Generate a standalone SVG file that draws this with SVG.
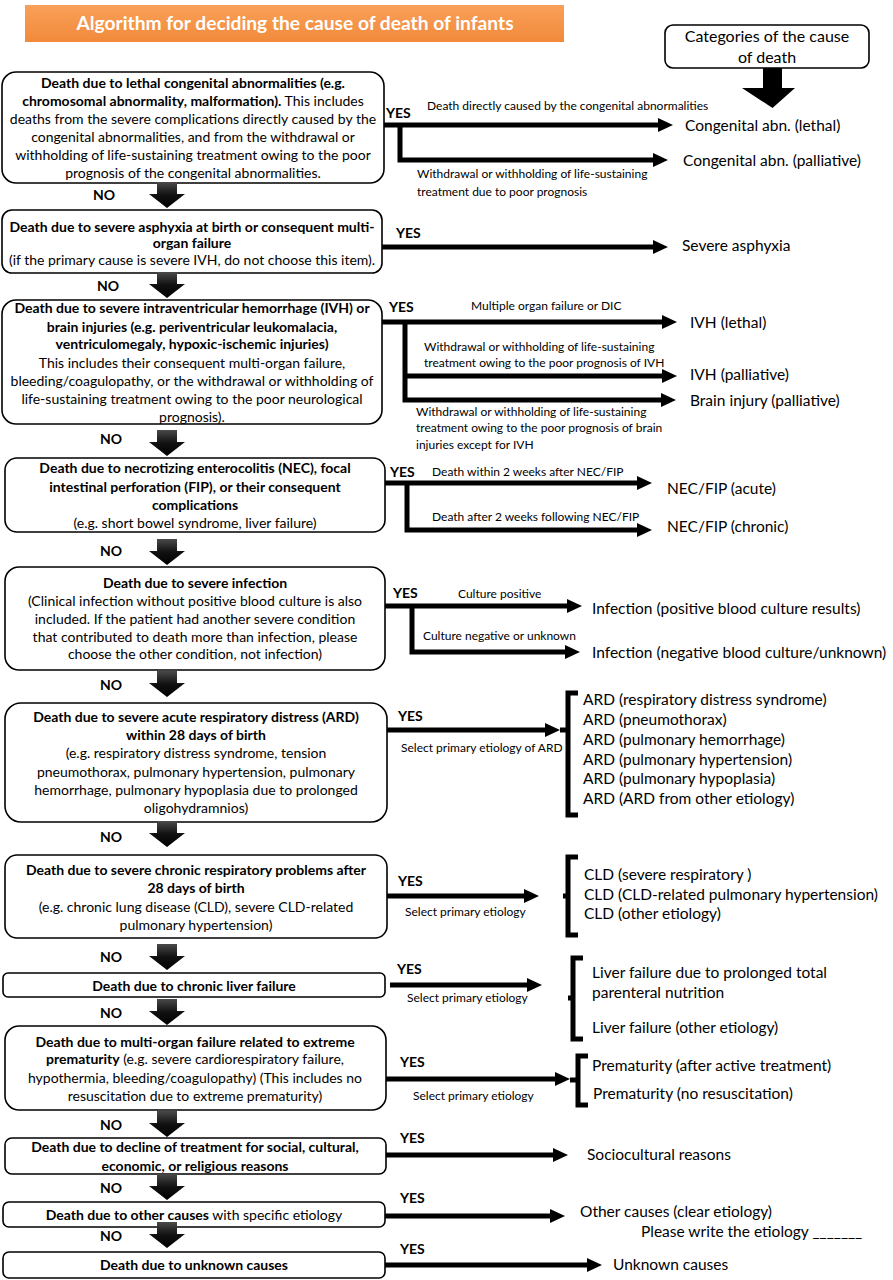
<svg xmlns="http://www.w3.org/2000/svg" width="893" height="1280" viewBox="0 0 893 1280">
<style>
text{font-family:Lato,"Open Sans",sans-serif;fill:#000}
.n{font-size:14px;text-anchor:middle}
.bd{font-weight:bold}
.yn{font-size:14px;font-weight:bold}
.s{font-size:12px}
.c{font-size:15.5px}
.box{fill:#fff;stroke:#000;stroke-width:1.6}
.ln{fill:none;stroke:#000;stroke-width:5}
.br{fill:none;stroke:#000;stroke-width:5}
</style>
<defs>
<linearGradient id="og" x1="0" y1="0" x2="0" y2="1"><stop offset="0" stop-color="#f9a059"/><stop offset="1" stop-color="#f18a3a"/></linearGradient>
<linearGradient id="dg" x1="0" y1="0" x2="0" y2="1"><stop offset="0" stop-color="#4a4a4a"/><stop offset="0.5" stop-color="#111"/><stop offset="1" stop-color="#000"/></linearGradient>
<path id="ah" d="M-15,-7 L0,0 L-15,7 Z" fill="#000"/>
<path id="da" d="M-10,0 H10 V12 H18 L0,26 L-18,12 H-10 Z" fill="url(#dg)"/>
</defs>

<g id="title">
<rect x="25" y="5" width="539" height="37" fill="url(#og)"/>
<text x="295" y="30" style="font-size:19.2px;font-weight:bold;fill:#fff;text-anchor:middle">Algorithm for deciding the cause of death of infants</text>
</g>

<g id="categories">
<rect x="665" y="25" width="204" height="43" rx="8" class="box"/>
<text x="767" y="42" class="c" style="font-size:16px;text-anchor:middle">Categories of the cause</text>
<text x="767" y="63" class="c" style="font-size:16px;text-anchor:middle">of death</text>
<path d="M763,68 H782 V88 H795 L772.5,108 L742,88 H763 Z" fill="#000"/>
</g>

<g id="node1">
<rect x="2" y="72" width="382" height="111" rx="14" class="box"/>
<text x="193" y="88" class="n bd">Death due to lethal congenital abnormalities (e.g.</text>
<text x="193" y="106" class="n"><tspan class="bd">chromosomal abnormality, malformation).</tspan> This includes</text>
<text x="193" y="124" class="n">deaths from the severe complications directly caused by the</text>
<text x="193" y="142" class="n">congenital abnormalities, and from the withdrawal or</text>
<text x="193" y="160" class="n">withholding of life-sustaining treatment owing to the poor</text>
<text x="193" y="178" class="n">prognosis of the congenital abnormalities.</text>
</g>

<g id="node2">
<rect x="2" y="210" width="380" height="63" rx="10" class="box"/>
<text x="192" y="232" class="n bd">Death due to severe asphyxia at birth or consequent multi-</text>
<text x="192" y="248" class="n bd">organ failure</text>
<text x="192" y="265" class="n">(if the primary cause is severe IVH, do not choose this item).</text>
</g>

<g id="node3">
<rect x="2" y="300" width="380" height="124" rx="14" class="box"/>
<text x="192" y="313" class="n bd">Death due to severe intraventricular hemorrhage (IVH) or</text>
<text x="192" y="332" class="n bd">brain injuries (e.g. periventricular leukomalacia,</text>
<text x="192" y="349" class="n bd">ventriculomegaly, hypoxic-ischemic injuries)</text>
<text x="192" y="368" class="n">This includes their consequent multi-organ failure,</text>
<text x="192" y="386" class="n">bleeding/coagulopathy, or the withdrawal or withholding of</text>
<text x="192" y="404" class="n">life-sustaining treatment owing to the poor neurological</text>
<text x="192" y="422" class="n">prognosis).</text>
</g>

<g id="node4">
<rect x="5" y="458" width="380" height="74" rx="12" class="box"/>
<text x="195" y="473" class="n bd">Death due to necrotizing enterocolitis (NEC), focal</text>
<text x="195" y="492" class="n bd">intestinal perforation (FIP), or their consequent</text>
<text x="195" y="510" class="n bd">complications</text>
<text x="195" y="528" class="n">(e.g. short bowel syndrome, liver failure)</text>
</g>

<g id="node5">
<rect x="5" y="567" width="380" height="103" rx="14" class="box"/>
<text x="195" y="588" class="n bd">Death due to severe infection</text>
<text x="195" y="606" class="n">(Clinical infection without positive blood culture is also</text>
<text x="195" y="624" class="n">included. If the patient had another severe condition</text>
<text x="195" y="642" class="n">that contributed to death more than infection, please</text>
<text x="195" y="659" class="n">choose the other condition, not infection)</text>
</g>

<g id="node6">
<rect x="5" y="703" width="382" height="119" rx="16" class="box"/>
<text x="196" y="722" class="n bd">Death due to severe acute respiratory distress (ARD)</text>
<text x="196" y="740" class="n bd">within 28 days of birth</text>
<text x="196" y="758" class="n">(e.g. respiratory distress syndrome, tension</text>
<text x="196" y="777" class="n">pneumothorax, pulmonary hypertension, pulmonary</text>
<text x="196" y="795" class="n">hemorrhage, pulmonary hypoplasia due to prolonged</text>
<text x="196" y="813" class="n">oligohydramnios)</text>
</g>

<g id="node7">
<rect x="5" y="855" width="382" height="83" rx="12" class="box"/>
<text x="196" y="875" class="n bd">Death due to severe chronic respiratory problems after</text>
<text x="196" y="893" class="n bd">28 days of birth</text>
<text x="196" y="912" class="n">(e.g. chronic lung disease (CLD), severe CLD-related</text>
<text x="196" y="930" class="n">pulmonary hypertension)</text>
</g>

<g id="node8">
<rect x="3" y="973" width="382" height="24" rx="5" class="box"/>
<text x="194" y="991" class="n bd">Death due to chronic liver failure</text>
</g>

<g id="node9">
<rect x="5" y="1026" width="381" height="84" rx="14" class="box"/>
<text x="195" y="1047" class="n bd">Death due to multi-organ failure related to extreme</text>
<text x="195" y="1064" class="n"><tspan class="bd">prematurity</tspan> (e.g. severe cardiorespiratory failure,</text>
<text x="195" y="1083" class="n">hypothermia, bleeding/coagulopathy) (This includes no</text>
<text x="195" y="1101" class="n">resuscitation due to extreme prematurity)</text>
</g>

<g id="node10">
<rect x="5" y="1138" width="381" height="36" rx="7" class="box"/>
<text x="195" y="1152" class="n bd">Death due to decline of treatment for social, cultural,</text>
<text x="195" y="1171" class="n bd">economic, or religious reasons</text>
</g>

<g id="node11">
<rect x="3" y="1202" width="382" height="25" rx="6" class="box"/>
<text x="194" y="1220" class="n"><tspan class="bd">Death due to other causes</tspan> with specific etiology</text>
</g>

<g id="node12">
<rect x="3" y="1252" width="382" height="26" rx="6" class="box"/>
<text x="194" y="1270" class="n bd">Death due to unknown causes</text>
</g>

<g id="connectors">
<path class="ln" d="M384,125 H660 M400,125 V160 H655"/>
<use href="#ah" x="673" y="125"/><use href="#ah" x="668" y="160"/>
<path class="ln" d="M382,247 H655"/>
<use href="#ah" x="668" y="247"/>
<path class="ln" d="M382,322 H664 M405,322 V400 H663 M405,376 H664"/>
<use href="#ah" x="677" y="322"/><use href="#ah" x="677" y="376"/><use href="#ah" x="676" y="400"/>
<path class="ln" d="M385,483 H639 M407,483 V530 H639"/>
<use href="#ah" x="652" y="483"/><use href="#ah" x="652" y="530"/>
<path class="ln" d="M385,606 H569 M412,606 V652 H567"/>
<use href="#ah" x="582" y="606"/><use href="#ah" x="580" y="652"/>
<path class="ln" d="M387,730 H547"/>
<use href="#ah" x="560" y="730"/>
<path class="br" d="M560,730 H568 M578,693 H568 V815 H578"/>
<path class="ln" d="M387,896 H526"/>
<use href="#ah" x="539" y="896"/>
<path class="br" d="M563,896 H568 M578,857 H568 V935 H578"/>
<path class="ln" d="M390,985 H529"/>
<use href="#ah" x="542" y="985"/>
<path class="br" d="M568,998 H573 M583,958 H573 V1039 H583"/>
<path class="ln" d="M386,1079 H557"/>
<use href="#ah" x="570" y="1079"/>
<path class="br" d="M570,1080 H578 M588,1056 H578 V1105 H588"/>
<path class="ln" d="M386,1155 H555"/>
<use href="#ah" x="568" y="1155"/>
<path class="ln" d="M385,1216 H552"/>
<use href="#ah" x="565" y="1216"/>
<path class="ln" d="M385,1265 H589"/>
<use href="#ah" x="602" y="1265"/>

<use href="#da" x="167" y="182"/>
<use href="#da" x="167" y="272"/>
<use href="#da" x="167" y="430"/>
<use href="#da" x="167" y="539"/>
<use href="#da" x="167" y="671"/>
<use href="#da" x="167" y="821"/>
<use href="#da" x="167" y="944"/>
<use href="#da" x="167" y="999"/>
<use href="#da" x="167" y="1111"/>
<use href="#da" x="167" y="1174"/>
<use href="#da" x="167" y="1222"/>

<g class="yn">
<text x="386" y="118" class="yn">YES</text>
<text x="396" y="238" class="yn">YES</text>
<text x="389" y="312" class="yn">YES</text>
<text x="390" y="477" class="yn">YES</text>
<text x="393" y="598" class="yn">YES</text>
<text x="398" y="721" class="yn">YES</text>
<text x="398" y="886" class="yn">YES</text>
<text x="397" y="974" class="yn">YES</text>
<text x="400" y="1067" class="yn">YES</text>
<text x="400" y="1143" class="yn">YES</text>
<text x="400" y="1203" class="yn">YES</text>
<text x="400" y="1254" class="yn">YES</text>
<text x="93" y="200" class="yn">NO</text>
<text x="97" y="291" class="yn">NO</text>
<text x="100" y="444" class="yn">NO</text>
<text x="100" y="556" class="yn">NO</text>
<text x="100" y="690" class="yn">NO</text>
<text x="100" y="842" class="yn">NO</text>
<text x="100" y="962" class="yn">NO</text>
<text x="100" y="1018" class="yn">NO</text>
<text x="100" y="1130" class="yn">NO</text>
<text x="100" y="1193" class="yn">NO</text>
<text x="100" y="1241" class="yn">NO</text>
</g>

<text x="427" y="110" class="s">Death directly caused by the congenital abnormalities</text>
<text x="417" y="178" class="s">Withdrawal or withholding of life-sustaining</text>
<text x="417" y="196" class="s">treatment due to poor prognosis</text>
<text x="471" y="310" class="s">Multiple organ failure or DIC</text>
<text x="424" y="351" class="s">Withdrawal or withholding of life-sustaining</text>
<text x="424" y="367" class="s">treatment owing to the poor prognosis of IVH</text>
<text x="416" y="416" class="s">Withdrawal or withholding of life-sustaining</text>
<text x="416" y="432" class="s">treatment owing to the poor prognosis of brain</text>
<text x="416" y="449" class="s">injuries except for IVH</text>
<text x="432" y="476" class="s">Death within 2 weeks after NEC/FIP</text>
<text x="432" y="521" class="s">Death after 2 weeks following NEC/FIP</text>
<text x="458" y="598" class="s">Culture positive</text>
<text x="423" y="640" class="s">Culture negative or unknown</text>
<text x="401" y="752" class="s">Select primary etiology of ARD</text>
<text x="405" y="916" class="s">Select primary etiology</text>
<text x="407" y="1002" class="s">Select primary etiology</text>
<text x="413" y="1100" class="s">Select primary etiology</text>
</g>

<g id="outcomes">
<text x="685" y="131" class="c">Congenital abn. (lethal)</text>
<text x="683" y="166" class="c">Congenital abn. (palliative)</text>
<text x="682" y="251" class="c">Severe asphyxia</text>
<text x="690" y="328" class="c">IVH (lethal)</text>
<text x="690" y="380" class="c">IVH (palliative)</text>
<text x="690" y="406" class="c">Brain injury (palliative)</text>
<text x="667" y="494" class="c">NEC/FIP (acute)</text>
<text x="667" y="532" class="c">NEC/FIP (chronic)</text>
<text x="592" y="614" class="c">Infection (positive blood culture results)</text>
<text x="592" y="658" class="c">Infection (negative blood culture/unknown)</text>
<text x="583" y="705" class="c">ARD (respiratory distress syndrome)</text>
<text x="583" y="725" class="c">ARD (pneumothorax)</text>
<text x="583" y="745" class="c">ARD (pulmonary hemorrhage)</text>
<text x="583" y="765" class="c">ARD (pulmonary hypertension)</text>
<text x="583" y="784" class="c">ARD (pulmonary hypoplasia)</text>
<text x="583" y="804" class="c">ARD (ARD from other etiology)</text>
<text x="584" y="880" class="c">CLD (severe respiratory )</text>
<text x="584" y="900" class="c">CLD (CLD-related pulmonary hypertension)</text>
<text x="584" y="919" class="c">CLD (other etiology)</text>
<text x="592" y="978" class="c">Liver failure due to prolonged total</text>
<text x="592" y="998" class="c">parenteral nutrition</text>
<text x="592" y="1033" class="c">Liver failure (other etiology)</text>
<text x="592" y="1071" class="c">Prematurity (after active treatment)</text>
<text x="593" y="1099" class="c">Prematurity (no resuscitation)</text>
<text x="587" y="1160" class="c">Sociocultural reasons</text>
<text x="580" y="1217" class="c">Other causes (clear etiology)</text>
<text x="641" y="1237" class="c">Please write the etiology _______</text>
<text x="613" y="1270" class="c">Unknown causes</text>
</g>
</svg>
